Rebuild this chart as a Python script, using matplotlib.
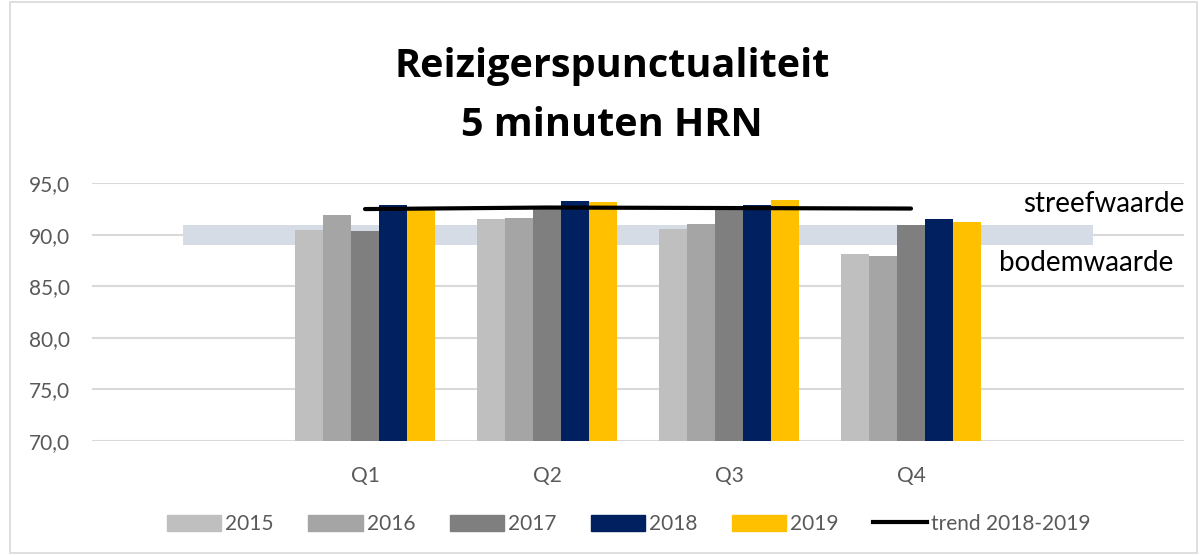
import matplotlib
matplotlib.use('Agg')
import matplotlib.pyplot as plt
from matplotlib.patches import Rectangle
from matplotlib.lines import Line2D
import numpy as np

# categorieen (lege randcategorieen voor de band)
categories = ["", "Q1", "Q2", "Q3", "Q4", ""]
years = ["2015", "2016", "2017", "2018", "2019"]
colors = ["#BFBFBF", "#A5A5A5", "#7F7F7F", "#002060", "#FFC000"]

v2015 = [90.5, 91.5, 90.6, 88.1]
v2016 = [91.9, 91.6, 91.1, 87.9]
v2017 = [90.4, 92.7, 92.8, 91.0]
v2018 = [92.9, 93.3, 92.9, 91.5]
v2019 = [92.6, 93.2, 93.4, 91.2]
trend = [92.5, 92.65, 92.6, 92.55]

bodemwaarde = 89.0
streefwaarde = 91.0

plt.rcParams['font.family'] = ['Lato', 'DejaVu Sans']

fig = plt.figure(figsize=(12, 5.55), dpi=100)
ax = fig.add_axes([92 / 1200, 1 - 441 / 555, (1184 - 92) / 1200, (441 - 183.3) / 555])

# rand om de grafiek
fig.patches.append(Rectangle((10 / 1200, 0.003), 1187 / 1200, 0.994, transform=fig.transFigure,
                             fill=False, edgecolor='#D9D9D9', linewidth=1.2))

x = np.arange(len(categories))
q = x[1:5]
w = 0.154
series = [v2015, v2016, v2017, v2018, v2019]
for i, (vals, c) in enumerate(zip(series, colors)):
    ax.bar(q + (i - 2) * w, np.array(vals) - 70, bottom=70, width=w, color=c, zorder=3)

# band tussen bodem- en streefwaarde
ax.fill_between([0, 5], bodemwaarde, streefwaarde, color='#D6DCE5', zorder=2, linewidth=0)

ax.plot(q, trend, color='black', linewidth=3, zorder=4, solid_capstyle='round')

ax.set_xlim(-0.5, 5.5)
ax.set_ylim(70, 95)
ax.set_yticks([70, 75, 80, 85, 90, 95])
ax.set_yticklabels([f"{v:.1f}".replace('.', ',') for v in [70, 75, 80, 85, 90, 95]])
ax.set_xticks(q)
ax.set_xticklabels(categories[1:5])
ax.tick_params(axis='both', length=0, labelsize=15, labelcolor='#595959')
ax.tick_params(axis='x', pad=18)
ax.tick_params(axis='y', pad=16)
ax.yaxis.grid(True, color='#D9D9D9', linewidth=1.5, zorder=0)
ax.set_axisbelow(True)
for s in ax.spines.values():
    s.set_visible(False)

fig.text(612 / 1200, 1 - 67 / 555, "Reizigerspunctualiteit", ha='center', va='center',
         fontsize=28.5, fontweight='bold', family=['Open Sans', 'DejaVu Sans'])
fig.text(612 / 1200, 1 - 126 / 555, "5 minuten HRN", ha='center', va='center',
         fontsize=28.5, fontweight='bold', family=['Open Sans', 'DejaVu Sans'])

fig.text(1184 / 1200, 1 - 204 / 555, "streefwaarde", ha='right', va='center', fontsize=20, color='black')
fig.text(1173 / 1200, 1 - 263 / 555, "bodemwaarde", ha='right', va='center', fontsize=20, color='black')

handles = [Rectangle((0, 0), 1, 1, color=c) for c in colors]
handles.append(Line2D([0], [0], color='black', linewidth=3))
labels = years + ["trend 2018-2019"]
fig.legend(handles, labels, loc='center', bbox_to_anchor=(629 / 1200, 1 - 524 / 555), ncol=6,
           frameon=False, fontsize=15, labelcolor='#595959', handlelength=2.6, handleheight=0.8,
           handletextpad=0.2, columnspacing=1.65)

fig.savefig('out.png', dpi=100)
